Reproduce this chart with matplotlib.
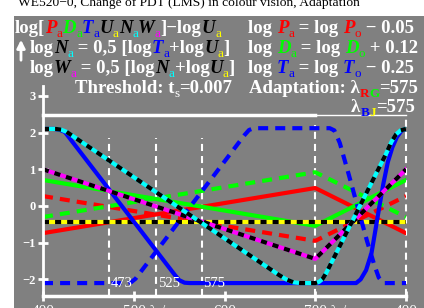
import matplotlib
matplotlib.use('Agg')
import matplotlib.pyplot as plt
from matplotlib.patches import Rectangle

W, H = 424, 308

# x: 400..700 nm, then 700..800 is the purple closure back to 400 nm
line_x = [400, 700, 800]
red_solid = [-0.74, 0.49, -0.74]
red_dash = [0.27, -0.95, 0.27]
green_solid = [0.71, -0.54, 0.71]
green_dash = [-0.30, 0.92, -0.30]
mag_y = [1.0, -1.44, 1.0]
yel_x = [400, 800]
yel_y = [-0.43, -0.43]

blue_x = [400, 412, 418, 424, 545, 550, 556, 562, 700, 745, 750, 756, 762, 766, 770,
          775, 780, 785, 790, 795, 800]
blue_y = [2.1, 2.1, 2.08, 2.02, -1.87, -2.02, -2.09, -2.1, -2.1, -2.1, -2.0, -1.75, -1.28,
          -0.7, -0.11, 0.6, 1.2, 1.6, 1.88, 2.05, 2.1]

bdash_x = [400, 492, 497, 502, 622, 627, 632, 716, 721, 727, 737, 747, 757, 765, 770,
           775, 800]
bdash_y = [-2.1, -2.1, -2.08, -1.98, 1.93, 2.07, 2.12, 2.12, 2.06, 1.72, 0.85, -0.05,
           -0.95, -1.6, -1.95, -2.1, -2.1]

cyan_x = [400, 414, 420, 426, 660, 668, 676, 684, 700, 704, 708, 712, 778, 784, 789,
          794, 800]
cyan_y = [2.1, 2.1, 2.08, 2.02, -1.88, -2.0, -2.08, -2.1, -2.1, -2.07, -1.99, -1.83,
          1.42, 1.75, 1.95, 2.06, 2.1]

marks = [473, 525, 575]
xtick_pos = [400, 500, 600, 700, 800]
xtick_lab = ['400', '500 λ /nm', '600', '700 λ /nm', '400']
ytick_pos = [-2, -1, 0, 1, 2, 3]
ytick_lab = ['−2', '−1', '0', '1', '2', '3']

GRAY = '#808080'
SERIF = 'Liberation Serif'

fig = plt.figure(figsize=(W / 100, H / 100), dpi=100)
fig.patch.set_facecolor('white')
fig.add_artist(Rectangle((14 / W, 0), (W - 14) / W, (H - 16) / H, transform=fig.transFigure,
                         facecolor=GRAY, edgecolor='none', zorder=0))

fig.text(189 / W, 1 - 6 / H, 'WE520−0, Change of PDT (LMS) in colour vision, Adaptation',
         ha='center', va='baseline', family=SERIF, size=9.7, color='k')

ax = fig.add_axes([43 / W, (H - 296) / H, 363 / W, 210 / H])
ax.set_facecolor('none')
ax.set_xlim(400, 800)
ax.set_ylim((206 - 296) / 36.7, (206 - 86) / 36.7)
for s in ['top', 'right']:
    ax.spines[s].set_visible(False)
ax.spines['left'].set_color('w')
ax.spines['left'].set_linewidth(2)
ax.spines['bottom'].set_color('w')
ax.spines['bottom'].set_linewidth(2.5)
ax.set_yticks(ytick_pos)
ax.set_yticklabels(ytick_lab, family=SERIF, weight='bold', size=9, color='w')
ax.set_xticks(xtick_pos)
ax.set_xticklabels([])
ax.tick_params(colors='w', direction='inout', length=7, width=2, pad=2)

for i, lab in enumerate(xtick_lab):
    if 'λ' in lab:
        ax.text(xtick_pos[i] - 12, -2.7, lab, ha='left', va='top', family=SERIF,
                size=11, color='w', clip_on=False)
    else:
        ax.text(xtick_pos[i], -2.7, lab, ha='center', va='top', family=SERIF,
                size=11, color='w', clip_on=False)

# frame lines and marker lines
ax.plot([400, 700], [2.48, 2.48], color='w', lw=2.5, clip_on=False)
ax.plot([700, 800], [2.48, 2.48], color='w', lw=1, clip_on=False)
vdash = dict(color='w', lw=1.5, dashes=(3.4, 2.4))
for m in marks:
    ax.plot([m, m], [-2.45, 1.85], **vdash)
    ax.text(m + 1.5, -2.12, str(m), color='w', size=10.5, family=SERIF, va='center')
ax.plot([700, 700], [-2.45, 2.2], **vdash)
ax.plot([800, 800], [-2.45, 2.48], clip_on=False, **vdash)

lw = 3
cdash = (2.4, 1.7)
kdash = (1.45, 1.45)
ax.plot(line_x, red_solid, color='red', lw=lw)
ax.plot(line_x, red_dash, color='red', lw=lw, dashes=cdash)
ax.plot(line_x, green_solid, color='lime', lw=lw)
ax.plot(line_x, green_dash, color='lime', lw=lw, dashes=cdash)
ax.plot(yel_x, yel_y, color='yellow', lw=lw)
ax.plot(yel_x, yel_y, color='k', lw=lw, dashes=kdash)
ax.plot(blue_x, blue_y, color='blue', lw=lw)
ax.plot(bdash_x, bdash_y, color='blue', lw=lw, dashes=cdash)
ax.plot(line_x, mag_y, color='magenta', lw=lw)
ax.plot(line_x, mag_y, color='k', lw=lw, dashes=kdash)
ax.plot(cyan_x, cyan_y, color='cyan', lw=lw)
ax.plot(cyan_x, cyan_y, color='k', lw=lw, dashes=kdash)

ax.annotate('', xy=(21 / W, 1 - 37 / H), xytext=(21 / W, 1 - 63 / H),
            xycoords='figure fraction', textcoords='figure fraction',
            arrowprops=dict(arrowstyle='-|>', color='w', lw=2, mutation_scale=12))

# header text, built from coloured pieces
FS = 13.5
fig.canvas.draw()
rend = fig.canvas.get_renderer()


def width(s, kw):
    t = fig.text(0, 0, s, **kw)
    w = t.get_window_extent(rend).width
    t.remove()
    return w


def line(x, y, parts):
    for s, col, kind in parts:
        kw = dict(family=SERIF, weight='bold', color=col, size=FS)
        dy = 0
        if kind == 'i':
            kw['style'] = 'italic'
        elif kind in ('s', 'sn'):
            kw['size'] = FS * 0.7
            if kind == 'sn':
                kw['weight'] = 'normal'
            dy = 4
        fig.text(x / W, 1 - (y + dy) / H, s, va='baseline', **kw)
        x += width('|' + s + '|', kw) - width('||', kw)


w = 'w'
line(15, 33, [('log[', w, 'n'), ('P', 'red', 'i'), ('a', 'red', 'sn'),
              ('D', 'lime', 'i'), ('a', 'lime', 'sn'), ('T', 'blue', 'i'), ('a', 'blue', 'sn'),
              ('U', 'k', 'i'), ('a', 'yellow', 'sn'), ('N', 'k', 'i'), ('a', 'cyan', 'sn'),
              ('W', 'k', 'i'), ('a', 'magenta', 'sn'), (']−log', w, 'n'),
              ('U', 'k', 'i'), ('a', 'yellow', 'sn')])
line(30, 53, [('log', w, 'n'), ('N', 'k', 'i'), ('a', 'cyan', 'sn'), (' = 0,5 [log', w, 'n'),
              ('T', 'blue', 'i'), ('a', 'blue', 'sn'), ('+log', w, 'n'), ('U', 'k', 'i'),
              ('a', 'yellow', 'sn'), (']', w, 'n')])
line(30, 73, [('log', w, 'n'), ('W', 'k', 'i'), ('a', 'magenta', 'sn'), (' = 0,5 [log', w, 'n'),
              ('N', 'k', 'i'), ('a', 'cyan', 'sn'), ('+log', w, 'n'), ('U', 'k', 'i'),
              ('a', 'yellow', 'sn'), (']', w, 'n')])
line(75, 93, [('Threshold: t', w, 'n'), ('s', w, 'sn'), ('=0.007', w, 'n')])

for yy, col, sym, val in [(33, 'red', 'P', ' − 0.05'), (53, 'lime', 'D', ' + 0.12'),
                          (73, 'blue', 'T', ' − 0.25')]:
    line(248, yy, [('log ', w, 'n'), (sym, col, 'i'), ('a', col, 'sn'), (' = log ', w, 'n'),
                   (sym, col, 'i'), ('o', col, 'sn'), (val, w, 'n')])
line(249, 93, [('Adaptation: λ', w, 'n'), ('R', 'red', 's'), ('G', 'lime', 's'),
               ('=575', w, 'n')])
line(351, 112, [('λ', w, 'n'), ('B', 'blue', 's'), ('J', 'yellow', 's'), ('=575', w, 'n')])

plt.savefig('out.png', dpi=100)
